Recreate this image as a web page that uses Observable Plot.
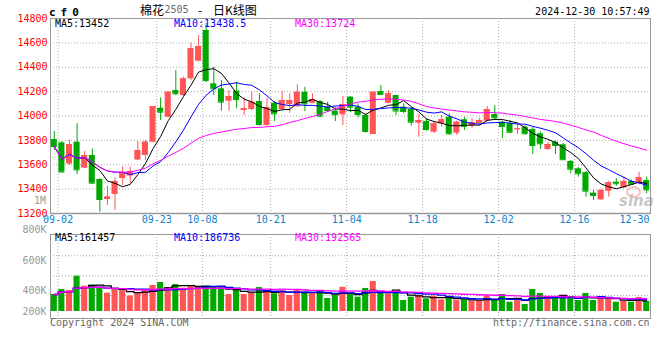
<!DOCTYPE html>
<html><head><meta charset="utf-8">
<script src="https://cdn.jsdelivr.net/npm/d3@7"></script>
<script src="https://cdn.jsdelivr.net/npm/@observablehq/plot@0.6"></script>
<style>
html,body{margin:0;padding:0;background:#fff;}
#wrap{position:relative;width:660px;height:360px;overflow:hidden;background:#fff;}
#wrap svg{position:absolute;left:0;}
.t{position:absolute;white-space:nowrap;line-height:1;font-family:"DejaVu Sans Mono",monospace;font-size:10px;}
</style></head><body><div id="wrap"></div>
<script>
// ---------- data ----------
const dates = [
"09-02","09-03","09-04","09-05","09-06","09-09","09-10","09-11","09-12","09-13","09-18","09-19","09-20","09-23","09-24","09-25","09-26","09-27","09-30",
"10-08","10-09","10-10","10-11","10-14","10-15","10-16","10-17","10-18","10-21","10-22","10-23","10-24","10-25","10-28","10-29","10-30","10-31",
"11-01","11-04","11-05","11-06","11-07","11-08","11-11","11-12","11-13","11-14","11-15","11-18","11-19","11-20","11-21","11-22","11-25","11-26","11-27","11-28","11-29",
"12-02","12-03","12-04","12-05","12-06","12-09","12-10","12-11","12-12","12-13","12-16","12-17","12-18","12-19","12-20","12-23","12-24","12-25","12-26","12-27","12-30"];
const open = [13807,13780,13606,13785,13572,13676,13479,13315,13356,13487,
13508,13639,13676,13785,14064,13990,14209,14168,14305,14450,
14702,14264,14223,14121,14205,14045,14053,14119,13922,14105,
14053,14094,14075,14195,14105,14119,14072,14041,14010,14155,
14072,14004,13848,14201,14105,14168,14072,14053,13941,13955,
13867,13936,13990,13859,13969,13916,13936,13957,14012,13949,
13936,13889,13908,13889,13854,13725,13785,13764,13627,13567,
13536,13367,13312,13383,13457,13411,13463,13444,13471];
const high = [13873,13791,13799,13936,13709,13729,13487,13424,13495,13582,
13582,13791,13799,14078,14149,14200,14373,14318,14597,14660,
14759,14400,14291,14209,14277,14149,14195,14182,14146,14119,
14201,14182,14256,14236,14182,14127,14113,14072,14160,14160,
14100,14018,14195,14250,14209,14168,14100,14072,14018,13977,
13955,14004,14018,13957,13988,13980,13980,14078,14084,13957,
13963,13936,13922,13905,13870,13783,13795,13774,13635,13577,
13545,13389,13397,13465,13487,13498,13473,13539,13498];
const low = [13717,13536,13594,13520,13569,13438,13211,13266,13225,13430,
13446,13635,13635,13780,13963,13985,14168,14160,14291,14445,
14275,14168,14040,14040,14059,14004,14045,13916,13916,13955,
14045,14022,14073,14036,14100,13985,14031,13955,13922,14027,
13984,13859,13848,14172,14100,14004,14018,13916,13826,13875,
13856,13908,13840,13840,13881,13900,13922,13955,13963,13815,
13854,13848,13846,13684,13725,13717,13684,13635,13526,13498,
13334,13307,13307,13334,13422,13405,13432,13436,13362];
const close = [13750,13540,13766,13558,13676,13449,13315,13335,13463,13536,
13545,13717,13785,14078,14031,14195,14182,14305,14551,14570,
14291,14223,14114,14160,14135,14059,14113,13930,14067,14018,
14127,14127,14195,14100,14135,13999,14045,14010,14094,14072,
14012,13873,14195,14176,14182,14041,14037,13949,13962,13889,
13936,13969,13854,13949,13914,13944,13963,14053,13985,13914,
13867,13895,13854,13758,13772,13766,13758,13641,13563,13526,
13383,13348,13389,13452,13444,13463,13440,13493,13394];
const volume = [366,410,403,499,432,439,425,379,408,403,
351,379,408,437,457,423,443,419,437,430,
430,421,419,366,410,366,382,423,388,373,
403,356,410,385,373,403,327,356,425,373,
340,417,463,379,373,395,307,340,351,324,
351,314,334,307,314,300,300,356,314,366,
291,307,268,410,376,317,340,340,340,307,
376,307,324,337,291,298,291,337,298].map(v => v * 1000);

const priceTicks = [13200,13400,13600,13800,14000,14200,14400,14600,14800];
const volTicks = [200000,400000,600000,800000];
const volGrid = [356000,501000,634000];
const xTickDates = ["09-02","09-23","10-08","10-21","11-04","11-18","12-02","12-16","12-30"];
const maPeriods = [5,10,30];
const priceLegend = ["MA5:13452","MA10:13438.5","MA30:13724"];
const volLegend = ["MA5:161457","MA10:186736","MA30:192565"];

// ---------- styles ----------
const UP = "#ff5555", DOWN = "#00a800";
const maColors = ["#000000","#0000ff","#ff00ff"];
const AXISBLUE = "#0c84d0";
const FONT = "DejaVu Sans Mono";

const rows = dates.map((date,i)=>({date, open:open[i], high:high[i], low:low[i], close:close[i], vol:volume[i], up: close[i] >= open[i]}));
const step = 600 / dates.length;
const dx = step / 2;
const gridDates = xTickDates.slice(0, -1);
const lastDate = xTickDates[xTickDates.length - 1];
const grid = {stroke:"#aaaaaa", strokeDasharray:"1,2", strokeWidth:1};
const xScale = {type:"band", domain:dates, range:[50,650], paddingInner:0.2, paddingOuter:0.1, axis:null};
const baseStyle = {background:"transparent", fontFamily:FONT, fontSize:"10px", color:"#000", overflow:"visible"};

const candle = (up, color) => [
  Plot.ruleX(rows, {filter:d=>d.up===up, x:"date", y1:"low", y2:"high", stroke:color, strokeWidth:1}),
  Plot.barY(rows, {filter:d=>d.up===up, x:"date", y1:"open", y2:"close", fill:color}),
  Plot.tickY(rows, {filter:d=>d.up===up, x:"date", y:"close", stroke:color})
];

const mainSvg = Plot.plot({
  width:660, height:232, marginTop:18, marginRight:10, marginBottom:19, marginLeft:50,
  style: baseStyle,
  x: xScale,
  y: {domain:[priceTicks[0], priceTicks[priceTicks.length-1]], axis:null},
  marks: [
    Plot.ruleY(priceTicks.slice(1,-1), grid),
    Plot.ruleX(gridDates, {x:d=>d, dx, ...grid}),
    Plot.frame({stroke:"#999999"}),
    Plot.ruleY([priceTicks[0]], {stroke:"#999999", strokeWidth:1.5}),
    Plot.axisY({ticks:priceTicks, tickSize:0, tickPadding:3, tickFormat:d3.format("d"), fill:"#ff0000", label:null}),
    Plot.text(gridDates, {x:d=>d, dx, frameAnchor:"bottom", dy:9, fill:AXISBLUE}),
    Plot.text([lastDate], {x:d=>d, dx:dx-1, frameAnchor:"bottom", dy:9, textAnchor:"end", fill:AXISBLUE}),
    ...candle(true, UP), ...candle(false, DOWN),
    ...maPeriods.map((k,j)=>Plot.lineY(rows, Plot.windowY({k, anchor:"end"}, {x:"date", y:"close", stroke:maColors[j], strokeWidth:1})))
  ]
});

const volBars = (up, color) => Plot.barY(rows, {filter:d=>d.up===up, x:"date", y1:volTicks[0], y2:"vol", fill:color});

const volSvg = Plot.plot({
  width:660, height:138, marginTop:12, marginRight:10, marginBottom:42, marginLeft:50,
  style: baseStyle,
  x: xScale,
  y: {type:"linear", domain:volTicks, range:[89, 68.5, 38.5, 7.5], axis:null},
  marks: [
    Plot.ruleY(volGrid, grid),
    Plot.ruleX(gridDates, {x:d=>d, dx, ...grid}),
    Plot.frame({stroke:"#999999"}),
    Plot.axisY({ticks:volTicks, tickSize:0, tickPadding:4, tickFormat:d=>(d/1000)+"K", fill:"#999999", label:null}),
    volBars(true, UP), volBars(false, DOWN),
    ...maPeriods.map((k,j)=>Plot.lineY(rows, Plot.windowY({k, anchor:"end"}, {x:"date", y:"vol", stroke:maColors[j], strokeWidth:1.3, curve:"step"})))
  ]
});

const wrap = document.getElementById("wrap");
mainSvg.style.top = "0px";
volSvg.style.top = "222px";
wrap.appendChild(mainSvg);
wrap.appendChild(volSvg);

function put(txt, x, y, o={}) {
  const el = document.createElement("div");
  el.className = "t";
  el.textContent = txt;
  el.style.left = x + "px";
  el.style.top = y + "px";
  const a = o.anchor || "start";
  const tx = a === "start" ? "0" : a === "end" ? "-100%" : "-50%";
  el.style.transform = `translate(${tx},-50%)`;
  if (o.color) el.style.color = o.color;
  if (o.size) el.style.fontSize = o.size + "px";
  if (o.weight) el.style.fontWeight = o.weight;
  if (o.family) el.style.fontFamily = o.family;
  if (o.italic) el.style.fontStyle = "italic";
  if (o.ls) el.style.letterSpacing = o.ls + "px";
  wrap.appendChild(el);
  return el;
}
const CJK = '"Noto Sans CJK SC", sans-serif';
put("cf0", 49, 11.5, {size:11, weight:"bold", ls:5});
put("棉花", 140, 9.5, {size:12, family:CJK});
put("2505", 164.5, 9.8, {size:10, color:"#666"});
put("-", 200, 9.5, {size:12, anchor:"middle", family:CJK});
put("日K线图", 213, 9.5, {size:12, family:CJK});
put("2024-12-30 10:57:49", 649.5, 12, {anchor:"end"});
const legendX = [55, 174, 295];
priceLegend.forEach((s,j)=>put(s, legendX[j], 23.7, {color:maColors[j]}));
volLegend.forEach((s,j)=>put(s, legendX[j], 238, {color:maColors[j]}));
put("1M", 46, 200.5, {anchor:"end", color:"#999"});
put("Copyright 2024 SINA.COM", 50, 323, {color:"#666"});
put("http://finance.sina.com.cn", 649.5, 323, {anchor:"end", color:"#666"});
// watermark
const ring = document.createElement("div");
ring.style.cssText = "position:absolute;left:626px;top:186px;width:11px;height:8px;border:2px solid rgba(240,110,110,0.45);border-radius:50%;";
wrap.appendChild(ring);
put("sina", 619, 200.5, {size:15, weight:"bold", italic:true, color:"rgba(150,150,150,0.55)", family:'"DejaVu Sans", sans-serif'});
</script></body></html>
